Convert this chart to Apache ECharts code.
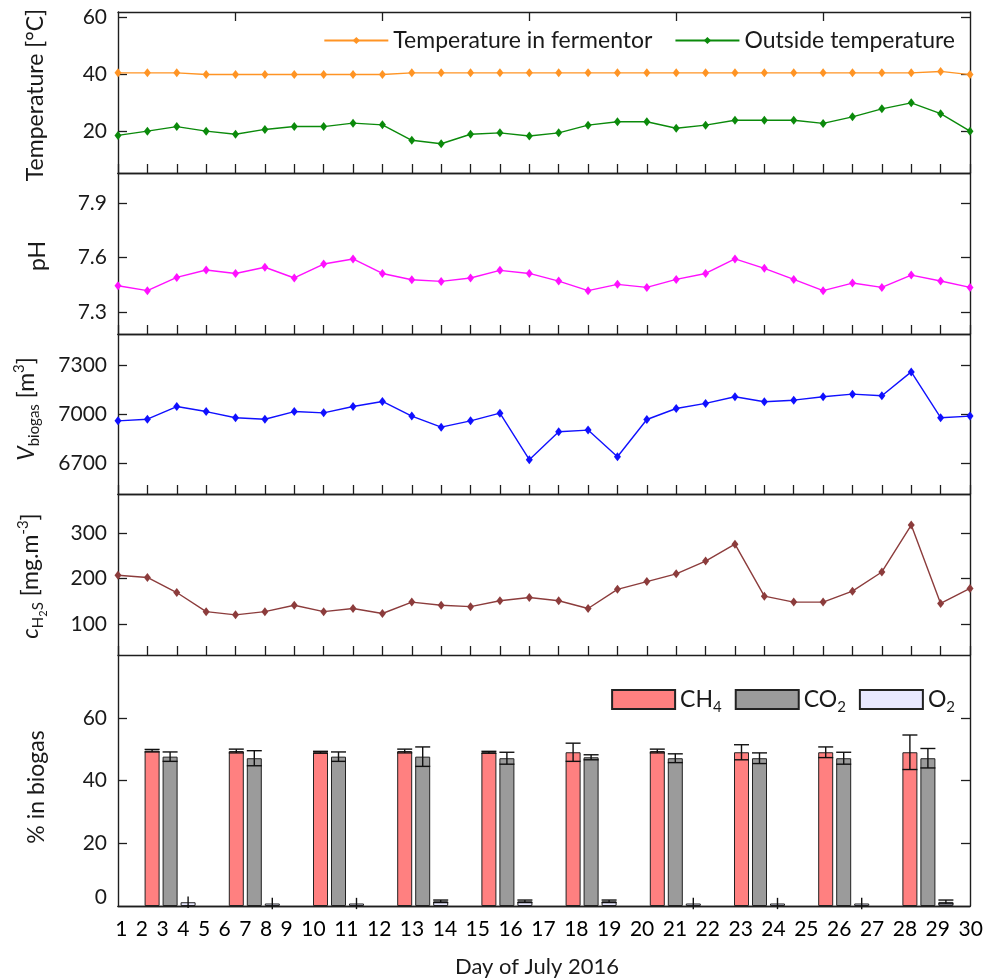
<!DOCTYPE html>
<html><head><meta charset="utf-8">
<script src="https://cdn.jsdelivr.net/npm/echarts@6/dist/echarts.min.js"></script>
<style>html,body{margin:0;padding:0;background:#fff}#c{width:991px;height:980px}</style>
</head><body><div id="c"></div>
<script>
// ---------- data ----------
const days = [1,2,3,4,5,6,7,8,9,10,11,12,13,14,15,16,17,18,19,20,21,22,23,24,25,26,27,28,29,30];
const tempFermentor = [40.4,40.4,40.4,39.8,39.8,39.8,39.8,39.8,39.8,39.8,40.4,40.4,40.4,40.4,40.4,40.4,40.4,40.4,40.4,40.4,40.4,40.4,40.4,40.4,40.4,40.4,40.4,40.4,40.9,39.8];
const tempOutside = [18.5,20.0,21.6,20.0,18.9,20.6,21.6,21.6,22.8,22.2,16.8,15.6,18.9,19.4,18.3,19.4,22.1,23.3,23.3,21.0,22.1,23.8,23.8,23.8,22.7,25.0,27.8,29.9,26.1,20.0];
const pH = [7.445,7.418,7.491,7.532,7.513,7.547,7.488,7.565,7.593,7.513,7.478,7.469,7.488,7.530,7.513,7.471,7.418,7.453,7.436,7.480,7.513,7.593,7.541,7.480,7.418,7.460,7.436,7.504,7.471,7.436];
const vBiogas = [6961,6971,7049,7018,6980,6971,7018,7010,7049,7080,6990,6922,6961,7008,6722,6894,6904,6740,6969,7037,7068,7109,7078,7088,7109,7125,7115,7262,6980,6990];
const cH2S = [207,202,169,127,120,127,141,127,134,123,148,141,138,151,158,151,134,176,193,210,238,275,161,148,148,172,214,317,145,178];

const sampleGroups = ['1','2','3','4','5','6','7','8','9','10'];
const ch4 = [49.5,49.4,49.0,49.4,49.0,49.0,49.4,49.0,49.0,49.0];
const ch4Err = [0.4,0.6,0.3,0.6,0.3,2.9,0.6,2.4,1.7,5.5];
const co2 = [47.6,47.1,47.6,47.6,47.1,47.4,47.1,47.1,47.1,47.1];
const co2Err = [1.5,2.4,1.5,3.1,1.9,0.8,1.4,1.7,1.9,3.1];
const o2 = [1.2,0.8,0.8,1.5,1.5,1.5,0.8,0.8,0.8,1.3];
const o2Err = [1.8,1.8,1.8,0.4,0.4,0.4,1.8,1.8,1.8,0.6];

const tempTicks = [20,40,60];
const pHTicks = [7.3,7.6,7.9];
const vTicks = [6700,7000,7300];
const cTicks = [100,200,300];
const pctTicks = [0,20,40,60];
const pctInnerTicks = [20,40,60];
const topDayTicks = [5,10,15,20,25];
const dayLabels = days.map(String);

// ---------- layout ----------
const FONT = 'Lato';
const TXT = '#1a1a1a';
const AX = '#1e1e1e';
const L = 118, R = 21;
const panels = [
  {top:12, h:161, min:5.35, max:61.7, ticks:tempTicks, fmt:v=>String(v)},
  {top:173, h:161, min:7.179, max:8.067, ticks:pHTicks, fmt:v=>v.toFixed(1)},
  {top:334, h:160, min:6511, max:7495, ticks:vTicks, fmt:v=>String(v)},
  {top:494, h:161, min:32, max:385, ticks:cTicks, fmt:v=>String(v)},
  {top:655, h:251, min:0, max:80, ticks:pctTicks, fmt:v=>(v===0?'{z|0}':String(v))}
];

const axLine = {show:true, lineStyle:{color:AX, width:1.4}};
const grid = panels.map(p=>({left:L, right:R, top:p.top, height:p.h, containLabel:false}));
grid.push({left:128, right:R, top:655, height:251});

const xAxis = [];
panels.forEach((p,i)=>{
  xAxis.push({type:'value', gridIndex:i, min:1, max:30, interval:1, position:'bottom',
    axisLine:axLine, axisLabel:{show:false}, splitLine:{show:false},
    axisTick:{show:i<4, inside:true, length:9, lineStyle:{color:AX, width:1.3}}});
});
panels.forEach((p,i)=>{
  xAxis.push({type:'value', gridIndex:i, min:1, max:30, position:'top',
    axisLine:axLine, axisLabel:{show:false}, splitLine:{show:false},
    axisTick:{show:i===0, inside:true, length:9, customValues:topDayTicks, lineStyle:{color:AX, width:1.3}}});
});
xAxis.push({type:'category', gridIndex:5, data:sampleGroups, show:false});

const yAxis = [];
panels.forEach((p,i)=>{
  yAxis.push({type:'value', gridIndex:i, min:p.min, max:p.max, position:'left',
    axisLine:axLine, splitLine:{show:false},
    axisTick:{show:true, inside:true, length:9, customValues:(i===4?pctInnerTicks:p.ticks), lineStyle:{color:AX, width:1.3}},
    axisLabel:{show:true, customValues:p.ticks, margin:11, formatter:p.fmt, color:TXT, fontFamily:FONT, fontSize:21,
      rich:{z:{fontFamily:FONT, fontSize:21, color:TXT, padding:[0,0,18,0]}}}});
});
panels.forEach((p,i)=>{
  yAxis.push({type:'value', gridIndex:i, min:p.min, max:p.max, position:'right',
    axisLine:axLine, splitLine:{show:false}, axisLabel:{show:false},
    axisTick:{show:true, inside:true, length:9, customValues:(i===4?pctInnerTicks:p.ticks), lineStyle:{color:AX, width:1.3}}});
});
yAxis.push({type:'value', gridIndex:5, min:0, max:80, show:false});

function lineSeries(name, vals, color, xi){
  return {type:'line', name:name, xAxisIndex:xi, yAxisIndex:xi, clip:false,
    data: days.map((d,k)=>[d, vals[k]]), symbol:'diamond', symbolSize:[7,9],
    lineStyle:{color:color, width:1.4}, itemStyle:{color:color}, z:4};
}

const BW = 15, GAP = 3;
function barSeries(name, vals, color){
  return {type:'bar', name:name, xAxisIndex:10, yAxisIndex:10, data:vals, barWidth:BW, barGap:'20%',
    itemStyle:{color:color, borderColor:'#222', borderWidth:1}, z:3};
}
const errData = [];
[[ch4,ch4Err],[co2,co2Err],[o2,o2Err]].forEach((pair,s)=>{
  sampleGroups.forEach((g,i)=>errData.push([i, pair[0][i], pair[1][i], s]));
});

const series = [
  lineSeries('Temperature in fermentor', tempFermentor, '#ff9424', 0),
  lineSeries('Outside temperature', tempOutside, '#0b8a0b', 0),
  lineSeries('pH', pH, '#ff10ff', 1),
  lineSeries('Vbiogas', vBiogas, '#1010ff', 2),
  lineSeries('cH2S', cH2S, '#8c3c3c', 3),
  barSeries('CH4', ch4, '#ff8080'),
  barSeries('CO2', co2, '#9b9b9b'),
  barSeries('O2', o2, '#e8e8ff'),
  {type:'custom', name:'err', xAxisIndex:10, yAxisIndex:10, clip:false, z:6, silent:true,
   data: errData,
   renderItem:(params, api)=>{
     const c = api.value(0), v = api.value(1), e = api.value(2), s = api.value(3);
     const off = (s-1)*(BW+GAP);
     const t = api.coord([c, v+e]); const b = api.coord([c, v-e]);
     const x = t[0]+off;
     const hw = (s===2 && e>=1) ? 0 : BW/2;
     const st = {stroke:'#111', lineWidth:1.4};
     const kids = [{type:'line', shape:{x1:x,y1:t[1],x2:x,y2:b[1]}, style:st}];
     if (hw>0){
       kids.push({type:'line', shape:{x1:x-hw,y1:t[1],x2:x+hw,y2:t[1]}, style:st});
       kids.push({type:'line', shape:{x1:x-hw,y1:b[1],x2:x+hw,y2:b[1]}, style:st});
     }
     return {type:'group', children:kids};
   }}
];

const subNames = {CH4:'CH{s|4}', CO2:'CO{s|2}', O2:'O{s|2}'};
const legend = [
  {data:['Temperature in fermentor','Outside temperature'], right:31, top:24, itemWidth:64, itemHeight:9, itemGap:22,
   textStyle:{fontFamily:FONT, fontSize:23, color:TXT}, selectedMode:false},
  {data:['CH4','CO2','O2'], right:31, top:683, itemWidth:63, itemHeight:19, itemGap:13, icon:'rect',
   formatter:n=>subNames[n], selectedMode:false,
   textStyle:{fontFamily:FONT, fontSize:23, color:TXT,
     rich:{s:{fontFamily:FONT, fontSize:15, color:TXT, padding:[15,0,0,0]}}}}
];

const richName = {
  n:{fontFamily:FONT, fontSize:23, color:TXT},
  i:{fontFamily:FONT, fontSize:23, color:TXT, fontStyle:'italic'},
  sub:{fontFamily:FONT, fontSize:15, color:TXT, padding:[15,0,0,0]},
  subsub:{fontFamily:FONT, fontSize:11, color:TXT, padding:[24,0,0,0]},
  sup:{fontFamily:FONT, fontSize:15, color:TXT, padding:[0,0,15,0]}
};
function vText(x, y, text){
  return {type:'text', x:x, y:y, rotation:Math.PI/2,
    style:{text:text, rich:richName, align:'center', verticalAlign:'middle', fontFamily:FONT, fontSize:23, fill:TXT}};
}
const xLabelText = dayLabels.map(d=>'{d|'+d+'}').join('');
const graphic = [
  vText(36, 95, '{n|Temperature [°C]}'),
  vText(38, 256, '{n|pH}'),
  vText(27, 409, '{i|V}{sub|biogas}{n| [m}{sup|3}{n|]}'),
  vText(31, 576, '{i|c}{sub|H}{subsub|2}{sub|S}{n| [mg.m}{sup|-3}{n|]}'),
  vText(37, 787, '{n|% in biogas}'),
  {type:'text', x:549, y:929, style:{text:xLabelText, align:'center', verticalAlign:'middle',
     rich:{d:{fontFamily:FONT, fontSize:21, color:TXT, padding:[0,4.25,0,4.25]}}}},
  {type:'text', x:537, y:967, style:{text:'Day of July 2016', align:'center', verticalAlign:'middle',
     fontFamily:FONT, fontSize:22, fill:TXT}}
];

const chart = echarts.init(document.getElementById('c'));
chart.setOption({
  animation:false, backgroundColor:'#fff',
  textStyle:{fontFamily:FONT},
  grid:grid, xAxis:xAxis, yAxis:yAxis, series:series, legend:legend, graphic:graphic
});
</script></body></html>
